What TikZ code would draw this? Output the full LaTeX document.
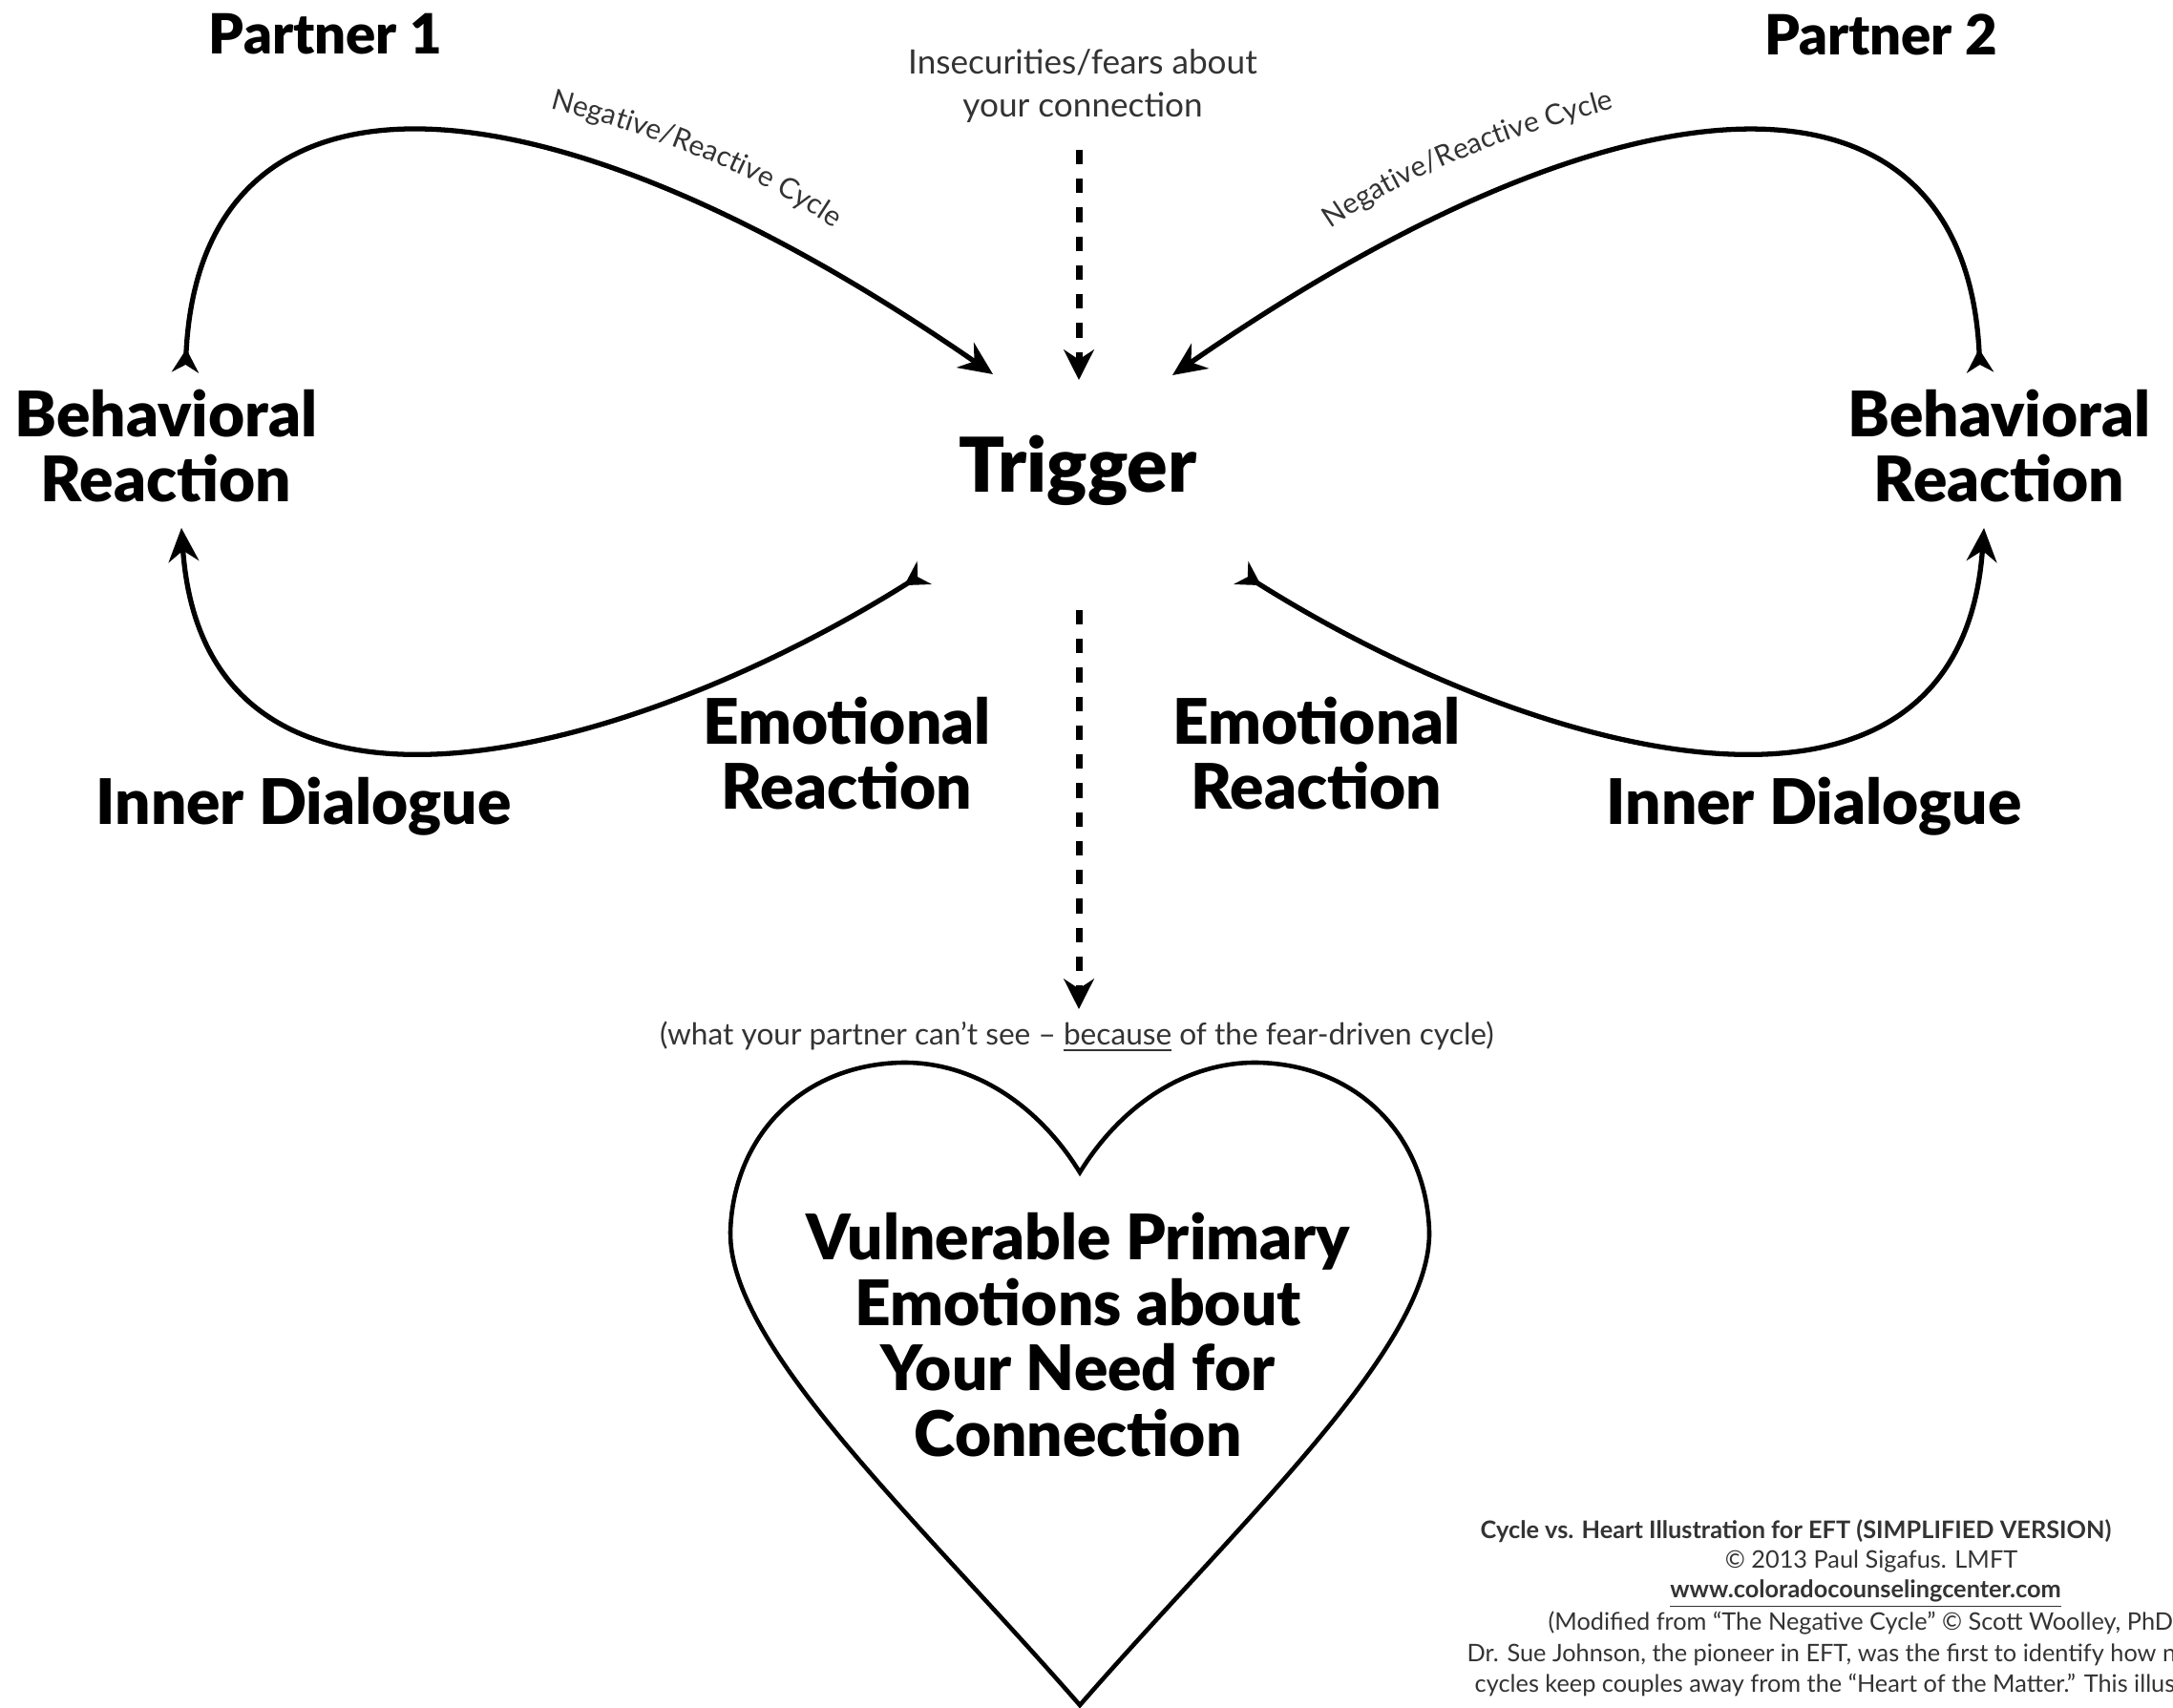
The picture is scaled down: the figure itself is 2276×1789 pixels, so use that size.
\documentclass[tikz,border=0pt]{standalone}
\usepackage{fontspec}
\setmainfont{Lato}[BoldFont={Lato Black}]
\newfontfamily\semib{Lato}[UprightFont={* Bold}]
\usetikzlibrary{arrows.meta,decorations.text}
\definecolor{txtgray}{HTML}{333333}
\begin{document}
\begin{tikzpicture}[x=0.01cm,y=-0.01cm,
  lbl/.style={font=\fontsize{18.7}{19.5}\selectfont\bfseries, align=center, inner sep=0pt},
  trig/.style={font=\fontsize{22.5}{24}\selectfont\bfseries, inner sep=0pt},
  part/.style={font=\fontsize{16.5}{18}\selectfont\bfseries, inner sep=0pt},
  small/.style={font=\fontsize{10}{12.8}\selectfont, text=txtgray, align=center, inner sep=0pt},
  foot/.style={font=\fontsize{7.2}{9}\selectfont, text=txtgray, inner sep=0pt},
  cyc/.style={line width=1.5pt, {Stealth[reversed,length=7pt,width=8pt]}-{Stealth[length=10pt,width=9pt]}},
  dasharrow/.style={line width=2pt, dash pattern=on 4.3pt off 4.3pt, -{Stealth[length=9pt,width=9pt]}},
  heartline/.style={line width=1.3pt},
  cyctext/.style={decorate, decoration={text along path, text align=center, text color=txtgray}}
]
\useasboundingbox (0,0) rectangle (2276,1789);
\clip (0,0) rectangle (2276,1789);

% titles
\node[part] (p1) at (341,36) {Partner 1};
\node[part] (p2) at (1970,36) {Partner 2};

% labels
\node[small] (insec) at (1134,90) {Insecurities/fears about\\your connection};
\node[trig] (trigger) at (1129,493) {Trigger};
\node[lbl] (behL) at (174,467) {Behavioral\\Reaction};
\node[lbl] (behR) at (2094,467) {Behavioral\\Reaction};
\node[lbl] (emoL) at (887,789) {Emotional\\Reaction};
\node[lbl] (emoR) at (1379,789) {Emotional\\Reaction};
\node[lbl] (innL) at (318,845) {Inner Dialogue};
\node[lbl] (innR) at (1900,845) {Inner Dialogue};
\node[font=\fontsize{9}{11}\selectfont, text=txtgray, inner sep=0pt] (hidden) at (1128,1086)
  {(what your partner can’t see – \underline{because} of the fear-driven cycle)};

% connector end points
\coordinate (tlS) at (194,390);
\coordinate (tlE) at (1040,392);
\coordinate (trS) at (2074,390);
\coordinate (trE) at (1228,393);
\coordinate (blS) at (968,600);
\coordinate (blE) at (190,553);
\coordinate (brS) at (1300,600);
\coordinate (brE) at (2078,553);
\coordinate (d1S) at (1130,157);
\coordinate (d1E) at (1130,398);
\coordinate (d2S) at (1130,639);
\coordinate (d2E) at (1130,1057);

% cycle arrows
\draw[cyc] (tlS) .. controls (210,50) and (560,60) .. (tlE);
\draw[cyc] (trS) .. controls (2058,50) and (1708,60) .. (trE);
\draw[cyc] (blS) .. controls (650,800) and (215,910) .. (blE);
\draw[cyc] (brS) .. controls (1618,800) and (2053,910) .. (brE);

% dashed arrows
\draw[dasharrow] (d1S) -- (d1E);
\draw[dasharrow] (d2S) -- (d2E);

% cycle labels
\path[cyctext, decoration={text={|\fontsize{8.5}{10}\selectfont|Negative/Reactive Cycle}}]
  (572,112) .. controls (680,140) and (790,180) .. (878,242);
\path[cyctext, decoration={text={|\fontsize{8.5}{10}\selectfont|Negative/Reactive Cycle}}]
  (1390,242) .. controls (1478,180) and (1588,140) .. (1696,112);

% heart
\draw[heartline] (1131,1228) .. controls (1088,1158) and (1020,1112) .. (945,1113)
  .. controls (840,1115) and (768,1190) .. (765,1290)
  .. controls (763,1410) and (960,1590) .. (1131,1786)
  .. controls (1302,1590) and (1499,1410) .. (1497,1290)
  .. controls (1494,1190) and (1422,1115) .. (1317,1113)
  .. controls (1242,1112) and (1174,1158) .. (1131,1228) -- cycle;
\node[lbl] (core) at (1129,1398) {Vulnerable Primary\\Emotions about\\Your Need for\\Connection};

% footnote block
\node[foot, anchor=base west, font=\fontsize{7.2}{9}\selectfont\semib] (f1) at (1550,1611)
  {Cycle vs. Heart Illustration for EFT (SIMPLIFIED VERSION)};
\node[foot, anchor=base] (f2) at (1960,1642) {© 2013 Paul Sigafus. LMFT};
\node[foot, anchor=base, font=\fontsize{7.2}{9}\selectfont\semib] (f3) at (1954,1673)
  {\underline{www.coloradocounselingcenter.com}};
\node[foot, anchor=base west] (f4) at (1621,1707) {(Modified from “The Negative Cycle” © Scott Woolley, PhD)};
\node[foot, anchor=base west] (f5) at (1536,1740) {Dr. Sue Johnson, the pioneer in EFT, was the first to identify how negative};
\node[foot, anchor=base west] (f6) at (1544,1772) {cycles keep couples away from the “Heart of the Matter.” This illustration};
\end{tikzpicture}
\end{document}
